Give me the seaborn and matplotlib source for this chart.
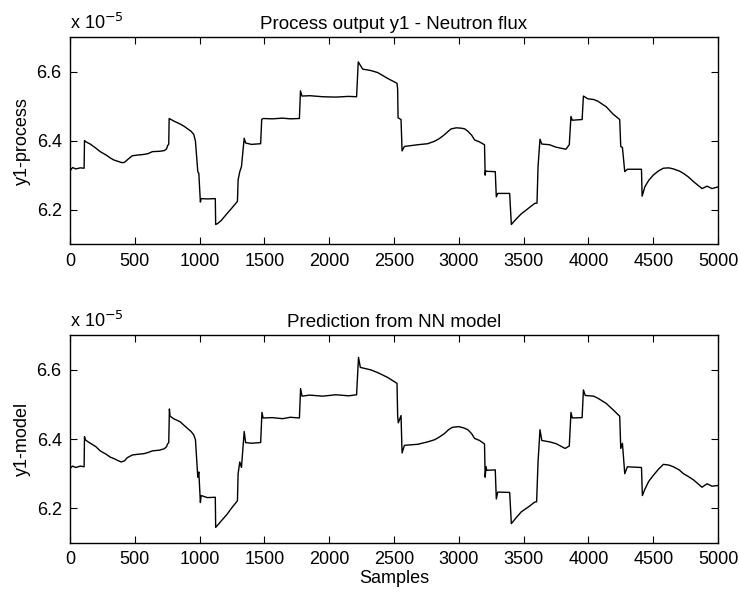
import numpy as np
import pandas as pd
import matplotlib
matplotlib.use('Agg')
import matplotlib.pyplot as plt
import seaborn as sns

# ============================================================
# Data (values in units of 1e-5)
# ============================================================
proc_x = [0, 20, 45, 80, 109, 112, 125, 156, 200, 233, 280, 310, 337, 370, 402, 420,
          441, 460, 480, 520, 571, 600, 636, 690, 727, 745, 753, 762, 765, 780, 804,
          850, 882, 934, 955, 968, 986, 994, 1006, 1012, 1060, 1121, 1124, 1140,
          1168, 1210, 1245, 1292, 1297, 1310, 1323, 1344, 1355, 1400, 1471, 1479,
          1490, 1560, 1640, 1700, 1770, 1778, 1790, 1850, 1950, 2050, 2150, 2211,
          2224, 2258, 2320, 2374, 2451, 2523, 2528, 2531, 2554, 2562, 2580, 2683,
          2760, 2812, 2850, 2889, 2915, 2941, 2980, 3018, 3045, 3070, 3100, 3121,
          3160, 3198, 3203, 3206, 3215, 3281, 3289, 3300, 3392, 3405, 3440, 3482,
          3540, 3585, 3603, 3611, 3626, 3640, 3700, 3749, 3826, 3852, 3865, 3875,
          3951, 3961, 3995, 4040, 4073, 4137, 4189, 4241, 4249, 4262, 4280, 4300,
          4409, 4414, 4435, 4465, 4500, 4540, 4578, 4620, 4655, 4700, 4733, 4770,
          4811, 4876, 4915, 4953, 5000]
proc_y = [6.312, 6.322, 6.318, 6.321, 6.320, 6.400, 6.396, 6.390, 6.378, 6.368, 6.358,
          6.350, 6.344, 6.340, 6.336, 6.337, 6.344, 6.350, 6.356, 6.358, 6.360, 6.362,
          6.368, 6.369, 6.371, 6.376, 6.385, 6.390, 6.464, 6.461, 6.456, 6.448, 6.441,
          6.427, 6.418, 6.398, 6.310, 6.305, 6.222, 6.232, 6.231, 6.232, 6.157, 6.160,
          6.169, 6.188, 6.203, 6.224, 6.286, 6.310, 6.325, 6.407, 6.393, 6.389, 6.391,
          6.461, 6.464, 6.463, 6.465, 6.463, 6.464, 6.544, 6.529, 6.530, 6.527, 6.526,
          6.528, 6.527, 6.628, 6.607, 6.603, 6.597, 6.580, 6.566, 6.548, 6.466, 6.461,
          6.370, 6.383, 6.388, 6.391, 6.398, 6.406, 6.417, 6.426, 6.434, 6.437, 6.436,
          6.434, 6.427, 6.415, 6.402, 6.396, 6.388, 6.300, 6.313, 6.311, 6.310, 6.237,
          6.247, 6.247, 6.157, 6.172, 6.188, 6.205, 6.218, 6.219, 6.325, 6.404, 6.390,
          6.388, 6.381, 6.375, 6.388, 6.470, 6.459, 6.461, 6.529, 6.521, 6.519, 6.514,
          6.498, 6.477, 6.461, 6.383, 6.380, 6.310, 6.317, 6.317, 6.239, 6.266, 6.285,
          6.300, 6.312, 6.320, 6.321, 6.318, 6.312, 6.305, 6.295, 6.281, 6.261, 6.268,
          6.261, 6.266]

model_x = [0, 20, 45, 80, 109, 112, 118, 140, 200, 233, 280, 310, 337, 370, 395, 420,
           441, 460, 480, 520, 571, 600, 636, 690, 727, 745, 753, 762, 767, 772, 804,
           850, 882, 934, 955, 968, 986, 994, 1006, 1012, 1060, 1121, 1124, 1140,
           1168, 1210, 1245, 1292, 1297, 1310, 1323, 1344, 1355, 1400, 1471, 1481,
           1490, 1560, 1640, 1700, 1770, 1779, 1790, 1850, 1950, 2050, 2150, 2211,
           2226, 2240, 2320, 2374, 2451, 2523, 2528, 2533, 2554, 2562, 2580, 2683,
           2760, 2812, 2850, 2889, 2920, 2950, 3000, 3040, 3070, 3100, 3121, 3160,
           3198, 3203, 3210, 3215, 3281, 3289, 3300, 3392, 3405, 3440, 3482, 3540,
           3585, 3600, 3611, 3626, 3640, 3700, 3749, 3820, 3852, 3865, 3875, 3951,
           3961, 3975, 4040, 4073, 4137, 4189, 4241, 4249, 4262, 4280, 4300, 4409,
           4416, 4435, 4465, 4500, 4540, 4578, 4620, 4655, 4700, 4733, 4770, 4811,
           4876, 4915, 4953, 5000]
model_y = [6.315, 6.322, 6.318, 6.322, 6.320, 6.407, 6.398, 6.392, 6.378, 6.366, 6.356,
           6.348, 6.344, 6.338, 6.334, 6.337, 6.346, 6.350, 6.354, 6.356, 6.358, 6.361,
           6.366, 6.368, 6.372, 6.378, 6.386, 6.390, 6.487, 6.466, 6.458, 6.450, 6.439,
           6.422, 6.412, 6.398, 6.290, 6.305, 6.217, 6.237, 6.231, 6.232, 6.145, 6.152,
           6.164, 6.182, 6.200, 6.222, 6.300, 6.334, 6.318, 6.422, 6.390, 6.388, 6.390,
           6.477, 6.461, 6.462, 6.459, 6.463, 6.461, 6.546, 6.524, 6.527, 6.524, 6.528,
           6.525, 6.528, 6.636, 6.607, 6.600, 6.592, 6.578, 6.561, 6.466, 6.447, 6.468,
           6.360, 6.382, 6.385, 6.392, 6.398, 6.406, 6.416, 6.427, 6.434, 6.436, 6.432,
           6.427, 6.415, 6.402, 6.396, 6.386, 6.290, 6.320, 6.310, 6.311, 6.227, 6.247,
           6.246, 6.156, 6.172, 6.190, 6.205, 6.218, 6.219, 6.334, 6.427, 6.396, 6.392,
           6.387, 6.373, 6.380, 6.477, 6.461, 6.462, 6.542, 6.526, 6.524, 6.518, 6.503,
           6.485, 6.466, 6.373, 6.388, 6.300, 6.320, 6.318, 6.237, 6.255, 6.278, 6.295,
           6.313, 6.327, 6.325, 6.320, 6.311, 6.300, 6.292, 6.282, 6.261, 6.271, 6.264,
           6.266]

panels = [
    ("Process output y1 - Neutron flux", "y1-process", proc_x, proc_y),
    ("Prediction from NN model", "y1-model", model_x, model_y),
]

X_TICKS = list(range(0, 5001, 500))
Y_TICKS = [6.2, 6.4, 6.6]
FS = 13

# ============================================================
# Plot
# ============================================================
sns.set_style('white')
plt.rcParams['font.family'] = ['Liberation Sans', 'DejaVu Sans']
plt.rcParams['font.size'] = FS
plt.rcParams['text.color'] = 'black'
plt.rcParams['axes.labelcolor'] = 'black'
plt.rcParams['xtick.color'] = 'black'
plt.rcParams['ytick.color'] = 'black'

fig = plt.figure(figsize=(7.39, 5.97), dpi=100)
axes = [fig.add_axes([0.0947, 0.591, 0.877, 0.347]),
        fig.add_axes([0.0947, 0.0905, 0.877, 0.348])]

for ax, (title, ylab, xs, ys) in zip(axes, panels):
    df = pd.DataFrame({'x': xs, 'y': ys})
    sns.lineplot(data=df, x='x', y='y', ax=ax, color='black', linewidth=1.0,
                 estimator=None, sort=False)
    ax.set_xlim(0, 5000)
    ax.set_ylim(6.1, 6.7)
    ax.set_xticks(X_TICKS)
    ax.set_yticks(Y_TICKS)
    ax.set_yticklabels([f"{v:.1f}" for v in Y_TICKS])
    ax.tick_params(direction='in', length=5, width=0.8, color='black',
                   labelcolor='black', bottom=True, left=True, top=True,
                   right=True, labelsize=FS, pad=6)
    for s in ax.spines.values():
        s.set_visible(True)
        s.set_color('black')
        s.set_linewidth(1.0)
    ax.set_title(title, fontsize=13.5, pad=6, color='black')
    ax.set_ylabel(ylab, fontsize=FS, labelpad=4, color='black')
    ax.set_xlabel('')
    ax.text(0.0, 1.02, r'x 10$^{-5}$', transform=ax.transAxes,
            ha='left', va='bottom', fontsize=FS, color='black')

axes[1].set_xlabel('Samples', fontsize=FS, labelpad=1, color='black')

plt.savefig('out.png', dpi=100)
plt.close()
